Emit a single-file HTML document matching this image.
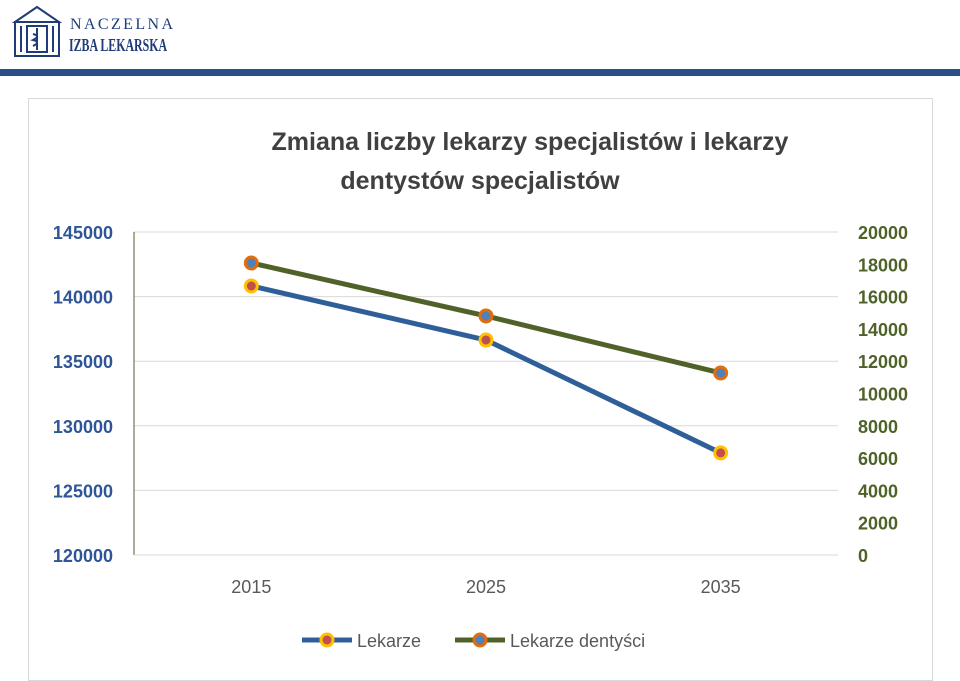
<!DOCTYPE html>
<html><head><meta charset="utf-8"><style>
body{margin:0;width:960px;height:681px;background:#fff;overflow:hidden;font-family:"Liberation Sans",sans-serif;position:relative}
</style></head><body>
<div style="position:absolute;left:12px;top:4px;width:50px;height:54px">
<svg width="50" height="54" viewBox="0 0 50 54"><g fill="none" stroke="#1f3c78" stroke-width="2"><path d="M3 18 L25 3 L47 18 Z"/><rect x="3" y="18" width="44" height="34"/><rect x="15" y="22" width="20" height="26"/><line x1="9" y1="22" x2="9" y2="48"/><line x1="41" y1="22" x2="41" y2="48"/><path d="M25 24 v22 M21 30 q8 2 0 6 q8 2 0 6"/></g></svg></div>
<div style="position:absolute;left:70px;top:15px;font-family:'Liberation Serif',serif;color:#1f3c78;font-size:16px;letter-spacing:2.4px;line-height:19px">NACZELNA</div>
<div style="position:absolute;left:69px;top:36px;font-family:'Liberation Serif',serif;color:#1f3c78;font-size:18px;font-weight:bold;line-height:19px;transform:scaleX(0.66);transform-origin:left;white-space:nowrap">IZBA LEKARSKA</div>
<div style="position:absolute;left:0;top:69px;width:960px;height:7px;background:#2b4f8a"></div>
<svg id="c" width="960" height="681" style="position:absolute;left:0;top:0"></svg>
<script>
const categories=["2015","2025","2035"];
const lekarze=[140820,136640,127900];
const dentysci=[18080,14800,11270];
const leftTicks=[120000,125000,130000,135000,140000,145000];
const rightTicks=[0,2000,4000,6000,8000,10000,12000,14000,16000,18000,20000];
const NS="http://www.w3.org/2000/svg";
const svg=document.getElementById('c');
function el(t,a,p){const e=document.createElementNS(NS,t);for(const k in a)e.setAttribute(k,a[k]);(p||svg).appendChild(e);return e;}
const yTop=232,yBot=555,xLeft=134,xRight=838;
const yL=v=>yBot-(v-120000)/25000*(yBot-yTop);
const yR=v=>yBot-v/20000*(yBot-yTop);
const xC=i=>xLeft+(xRight-xLeft)/categories.length*(i+0.5);
let b=el('rect',{x:28.5,y:98.5,width:904,height:582,fill:'#fff',stroke:'#d9d9d9'});


let t=el('text',{x:530,y:150,'text-anchor':'middle','font-size':25,'font-weight':'bold',fill:'#404040'});t.textContent='Zmiana liczby lekarzy specjalistów i lekarzy';


t=el('text',{x:480,y:189,'text-anchor':'middle','font-size':25,'font-weight':'bold',fill:'#404040'});t.textContent='dentystów specjalistów';


leftTicks.forEach(v=>{const y=yL(v);
 if(v>120000){const g=el('line',{x1:xLeft,x2:xRight,y1:y,y2:y,stroke:'#d9d9d9'});
 
 }
 const l=el('text',{x:113,y:y+7,'text-anchor':'end','font-size':18,'font-weight':'bold',fill:'#2e5597'});l.textContent=v;
 
 });
rightTicks.forEach(v=>{const y=yR(v);
 const l=el('text',{x:858,y:y+7,'font-size':18,'font-weight':'bold',fill:'#4f6228'});l.textContent=v;
 
 });
let a=el('line',{x1:xLeft,x2:xLeft,y1:yTop,y2:yBot,stroke:'#4f6228','stroke-width':1});


a=el('line',{x1:xLeft,x2:xRight,y1:yBot,y2:yBot,stroke:'#d9d9d9'});


categories.forEach((c,i)=>{const l=el('text',{x:xC(i),y:593,'text-anchor':'middle','font-size':18,fill:'#595959'});l.textContent=c;
 
 });
function series(vals,fy,color,mfill,mstroke,name){
 const p=el('polyline',{points:vals.map((v,i)=>xC(i)+','+fy(v)).join(' '),fill:'none',stroke:color,'stroke-width':5,'stroke-linejoin':'round'});
 
 
 vals.forEach((v,i)=>{const m=el('circle',{cx:xC(i),cy:fy(v),r:6,fill:mfill,stroke:mstroke,'stroke-width':3});
  
  });}
series(dentysci,yR,'#4f6228','#4f81bd','#e46c0a','dentysci');
series(lekarze,yL,'#2e5f99','#c0504d','#ffc000','lekarze');
function legend(x,color,mf,ms,label,name){
 const g=el('g',{});
 
 
 el('line',{x1:x,x2:x+50,y1:640,y2:640,stroke:color,'stroke-width':5},g);
 el('circle',{cx:x+25,cy:640,r:6,fill:mf,stroke:ms,'stroke-width':3},g);
 const l=el('text',{x:x+55,y:647,'font-size':18,fill:'#595959'},g);l.textContent=label;}
legend(302,'#2e5f99','#c0504d','#ffc000','Lekarze','legend-lekarze');
legend(455,'#4f6228','#4f81bd','#e46c0a','Lekarze dentyści','legend-dentysci');
</script>
</body></html>
